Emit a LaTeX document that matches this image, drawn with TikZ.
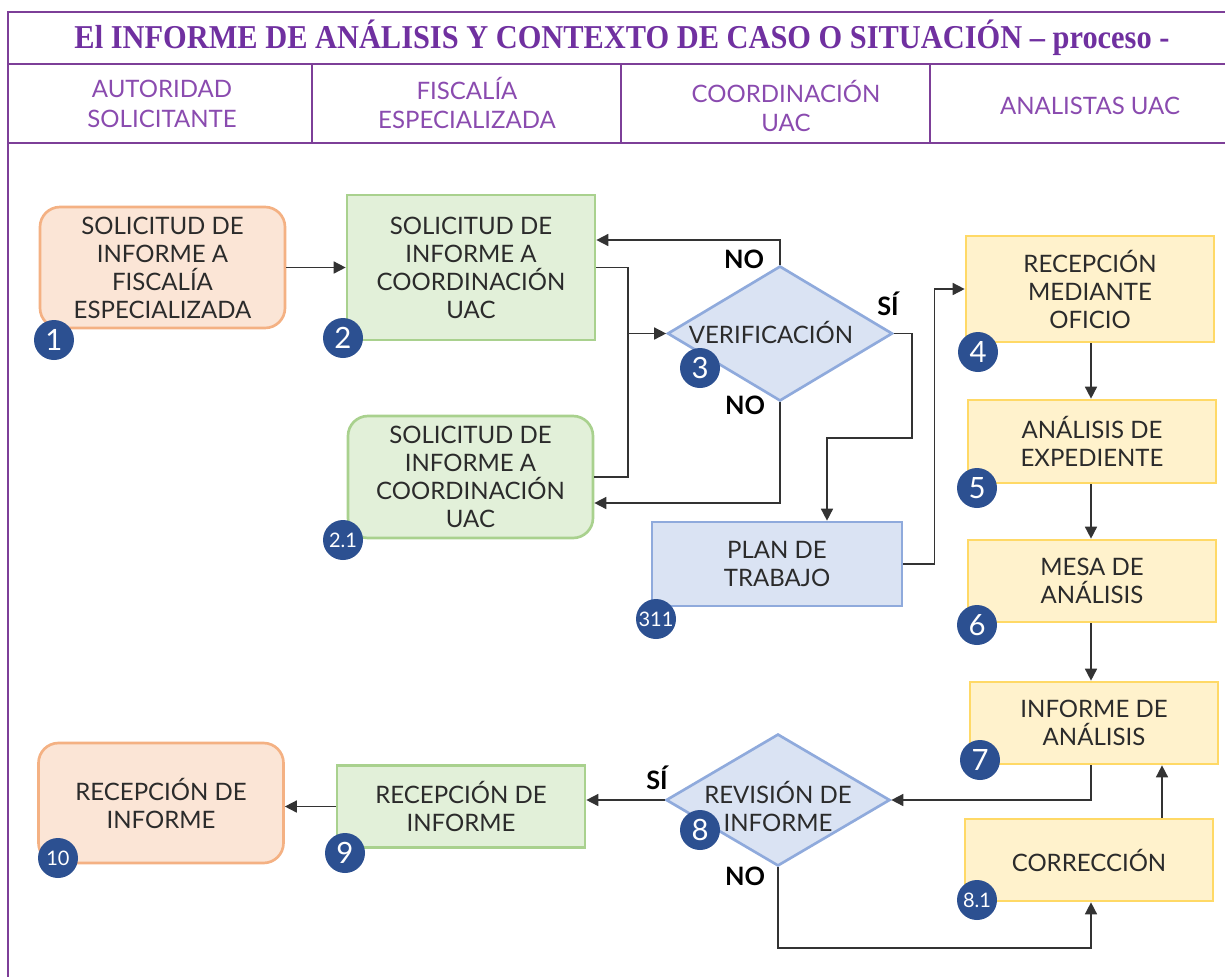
\documentclass[tikz,border=0pt]{standalone}
\usepackage{fontspec}
\setmainfont{Lato}
\newfontfamily\titlefont{Liberation Serif}
\usetikzlibrary{shapes.geometric,arrows.meta,calc}
\newdimen\px \px=0.75pt
\definecolor{orfill}{HTML}{FBE5D6}\definecolor{ordraw}{HTML}{F4B183}
\definecolor{grfill}{HTML}{E2F0D9}\definecolor{grdraw}{HTML}{A9D18E}
\definecolor{blfill}{HTML}{DAE3F3}\definecolor{bldraw}{HTML}{8FAADC}
\definecolor{yefill}{HTML}{FFF2CC}\definecolor{yedraw}{HTML}{FFD966}
\definecolor{txt}{HTML}{2B2B2B}
\definecolor{frm}{HTML}{7D3F98}
\definecolor{ttl}{HTML}{7030A0}
\definecolor{hdr}{HTML}{8A4BAF}
\definecolor{badge}{HTML}{2C5091}
\definecolor{conn}{HTML}{333333}
\tikzset{
  boxbase/.style={line width=2pt, align=center, text=txt, inner sep=0pt,
    font=\fontsize{18}{21}\selectfont},
  obox/.style={boxbase, fill=orfill, draw=ordraw, rounded corners=15pt},
  gbox/.style={boxbase, fill=grfill, draw=grdraw},
  grbox/.style={boxbase, fill=grfill, draw=grdraw, rounded corners=15pt},
  bbox/.style={boxbase, fill=blfill, draw=bldraw},
  ybox/.style={boxbase, fill=yefill, draw=yedraw},
  dia/.style={diamond, line width=2pt, fill=blfill, draw=bldraw, inner sep=0pt},
  dtext/.style={align=center, text=txt, font=\fontsize{18}{21}\selectfont},
  badgenode/.style={circle, fill=badge, text=white, minimum size=40\px, inner sep=0pt,
    font=\fontsize{22}{22}\selectfont},
  badgesmall/.style={badgenode, font=\fontsize{15}{15}\selectfont},
  conline/.style={draw=conn, line width=1.2pt},
  arr/.style={conline, -{Triangle[length=9pt,width=9pt]}},
  yn/.style={font=\fontsize{19}{19}\selectfont\bfseries, text=black},
  frame/.style={draw=frm, line width=2.2pt},
  lane/.style={align=center, text=hdr, font=\fontsize{18}{22}\selectfont}
}
\begin{document}
\begin{tikzpicture}[x=0.75pt,y=-0.75pt]
\useasboundingbox (0,0) rectangle (1225,976);
% frame
\draw[frame] (1226,12) -- (8,12) -- (8,977);
\draw[frame] (8,64) -- (1226,64);
\draw[frame] (8,143) -- (1226,143);
\foreach \xx in {312,621,930} \draw[frame, line width=1.4pt] (\xx,64) -- (\xx,143);
\node[text=ttl] (title) at (622,38) {\resizebox{1095\px}{\height}{\titlefont\fontsize{25}{28}\selectfont\bfseries El INFORME DE ANÁLISIS Y CONTEXTO DE CASO O SITUACIÓN – proceso -}};
\node[lane] (h1) at (162,104) {AUTORIDAD\\SOLICITANTE};
\node[lane] (h2) at (467,103) {FISCALÍA\\ESPECIALIZADA};
\node[lane] (h3) at (786,106) {COORDINACIÓN\\UAC};
\node[lane] (h4) at (1090,106) {ANALISTAS UAC};
% boxes
\node[obox, minimum width=245\px, minimum height=121\px] (n1) at (162.5,267.5) {SOLICITUD DE\\INFORME A\\FISCALÍA\\ESPECIALIZADA};
\node[gbox, minimum width=248\px, minimum height=145\px] (n2) at (471,267.5) {SOLICITUD DE\\INFORME A\\COORDINACIÓN\\UAC};
\node[dia, minimum width=225\px, minimum height=135\px] (n3) at (780,333.5) {};
\node[dtext] (t3) at (771,332) {VERIFICACIÓN};
\node[grbox, minimum width=245\px, minimum height=122\px] (n21) at (470.5,477) {SOLICITUD DE\\INFORME A\\COORDINACIÓN\\UAC};
\node[bbox, minimum width=250\px, minimum height=84\px] (n311) at (777,564) {PLAN DE\\TRABAJO};
\node[ybox, minimum width=248\px, minimum height=106\px] (n4) at (1090,289) {RECEPCIÓN\\MEDIANTE\\OFICIO};
\node[ybox, minimum width=248\px, minimum height=83\px] (n5) at (1092,441.5) {ANÁLISIS DE\\EXPEDIENTE};
\node[ybox, minimum width=248\px, minimum height=82\px] (n6) at (1092,581) {MESA DE\\ANÁLISIS};
\node[ybox, minimum width=248\px, minimum height=82\px] (n7) at (1094,723) {INFORME DE\\ANÁLISIS};
\node[dia, minimum width=224\px, minimum height=132\px] (n8) at (778,800) {};
\node[dtext] (t8) at (778,806) {REVISIÓN DE\\INFORME};
\node[ybox, minimum width=248\px, minimum height=82\px] (n81) at (1089,860) {CORRECCIÓN};
\node[gbox, minimum width=248\px, minimum height=82\px] (n9) at (461,806.5) {RECEPCIÓN DE\\INFORME};
\node[obox, minimum width=245\px, minimum height=120\px] (n10) at (161,803) {RECEPCIÓN DE\\INFORME};
% badges
\node[badgenode] (b1) at (54,340) {1};
\node[badgenode] (b2) at (343,338) {2};
\node[badgenode] (b3) at (700,368) {3};
\node[badgesmall] (b21) at (343,540) {2.1};
\node[badgesmall] (b311) at (656,619) {311};
\node[badgenode] (b4) at (978,352) {4};
\node[badgenode] (b5) at (977,488) {5};
\node[badgenode] (b6) at (977,625) {6};
\node[badgenode] (b7) at (980,760) {7};
\node[badgenode] (b8) at (700,830) {8};
\node[badgesmall] (b81) at (977,900) {8.1};
\node[badgenode] (b9) at (345,853) {9};
\node[badgesmall] (b10) at (58,858) {10};
% connectors
\draw[arr] (n1.east) -- (n2.west);
\draw[arr] (n3.north) |- ([yshift=27.5\px]n2.east);
\coordinate (j1) at (628,333.5);
\draw[conline] (n2.east) -| (j1) |- (n21.east);
\draw[arr] (j1) -- (n3.west);
\draw[arr] (n3.south) |- ([yshift=-26\px]n21.east);
\draw[arr] (n3.east) -- (912,333.5) -- (912,438) -- (827,438) -- ([xshift=50\px]n311.north);
\draw[arr] (n311.east) -- ++(31,0) |- (n4.west);
\draw[arr] (n4.south -| 1091,0) -- (n5.north -| 1091,0);
\draw[arr] (n5.south -| 1091,0) -- (n6.north -| 1091,0);
\draw[arr] (n6.south -| 1091,0) -- (n7.north -| 1091,0);
\draw[arr] (n7.south -| 1091,0) |- (n8.east);
\draw[arr] (n8.west) -- (n9.east |- n8.west);
\draw[arr] (n9.west) -- (n10.east |- n9.west);
\draw[arr] (n8.south) -- (778,948) -| (n81.south -| 1091,0);
\draw[arr] ([xshift=73\px]n81.north) -- ([xshift=73\px]n81.north |- n7.south);
% labels
\node[yn] (l1) at (744,259) {NO};
\node[yn] (l2) at (745,405) {NO};
\node[yn] (l3) at (888,304) {SÍ};
\node[yn] (l4) at (657,778) {SÍ};
\node[yn] (l5) at (745,876) {NO};
\end{tikzpicture}
\end{document}
